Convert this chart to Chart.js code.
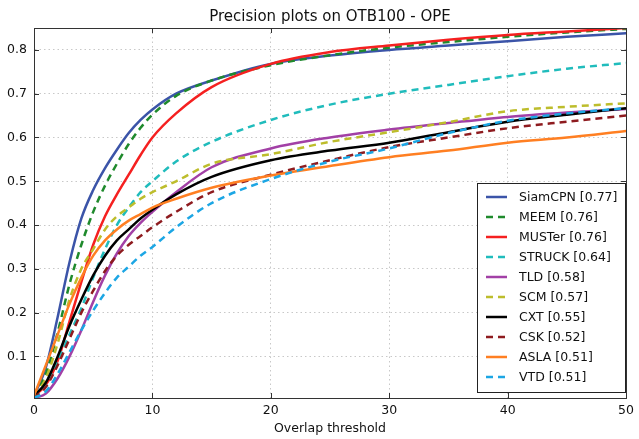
<!DOCTYPE html>
<html lang="en">
<head>
    <meta charset="UTF-8">
    <title>Precision plots on OTB100 - OPE</title>
    <script src="https://cdn.jsdelivr.net/npm/chart.js"></script>
    <style>
        html, body { margin: 0; padding: 0; background: #fff; }
        #wrap { width: 639px; height: 439px; }
    </style>
</head>
<body>
    <div id="wrap"><canvas id="precChart" width="639" height="439"></canvas></div>

    <script>
        // Datos
        const thresholds = [0, 1, 2, 3, 4, 5, 6, 7, 8, 9, 10, 12, 15, 20, 25, 30, 35, 40, 45, 50];
        const trackers = ['SiamCPN', 'MEEM', 'MUSTer', 'STRUCK', 'TLD', 'SCM', 'CXT', 'CSK', 'ASLA', 'VTD'];
        const scores = ['0.77', '0.76', '0.76', '0.64', '0.58', '0.57', '0.55', '0.52', '0.51', '0.51'];

        const siamcpn = [0.01, 0.075, 0.19, 0.315, 0.415, 0.48, 0.53, 0.572, 0.61, 0.64, 0.664, 0.70, 0.73, 0.768, 0.787, 0.80, 0.81, 0.82, 0.83, 0.838];
        const meem    = [0.01, 0.06, 0.155, 0.265, 0.355, 0.43, 0.49, 0.54, 0.585, 0.622, 0.652, 0.695, 0.73, 0.765, 0.788, 0.805, 0.818, 0.83, 0.84, 0.848];
        const muster  = [0.01, 0.035, 0.09, 0.18, 0.27, 0.355, 0.42, 0.47, 0.515, 0.56, 0.60, 0.655, 0.715, 0.768, 0.795, 0.81, 0.823, 0.834, 0.842, 0.85];
        const struck  = [0.005, 0.035, 0.09, 0.15, 0.21, 0.28, 0.345, 0.40, 0.44, 0.475, 0.50, 0.545, 0.59, 0.64, 0.675, 0.70, 0.72, 0.74, 0.757, 0.77];
        const tld     = [0.005, 0.015, 0.05, 0.10, 0.16, 0.225, 0.285, 0.335, 0.375, 0.405, 0.43, 0.475, 0.532, 0.575, 0.60, 0.618, 0.633, 0.647, 0.657, 0.665];
        const scm     = [0.01, 0.05, 0.13, 0.23, 0.30, 0.345, 0.39, 0.42, 0.44, 0.46, 0.475, 0.50, 0.54, 0.562, 0.59, 0.612, 0.635, 0.66, 0.67, 0.678];
        const cxt     = [0.01, 0.04, 0.10, 0.17, 0.23, 0.285, 0.33, 0.365, 0.39, 0.415, 0.435, 0.47, 0.51, 0.548, 0.57, 0.588, 0.612, 0.636, 0.652, 0.667];
        const csk     = [0.005, 0.03, 0.08, 0.14, 0.20, 0.25, 0.295, 0.33, 0.355, 0.375, 0.395, 0.43, 0.475, 0.515, 0.548, 0.578, 0.60, 0.621, 0.636, 0.65];
        const asla    = [0.01, 0.08, 0.15, 0.22, 0.28, 0.33, 0.365, 0.39, 0.41, 0.425, 0.44, 0.46, 0.485, 0.513, 0.535, 0.555, 0.57, 0.588, 0.60, 0.615];
        const vtd     = [0.005, 0.02, 0.06, 0.11, 0.16, 0.205, 0.245, 0.28, 0.305, 0.33, 0.35, 0.395, 0.45, 0.505, 0.545, 0.575, 0.61, 0.638, 0.655, 0.667];

        const xTicks = [0, 10, 20, 30, 40, 50];
        const yTicks = [0.1, 0.2, 0.3, 0.4, 0.5, 0.6, 0.7, 0.8];

        const series = [siamcpn, meem, muster, struck, tld, scm, cxt, csk, asla, vtd];
        const colors = ['#3b54a8', '#1f8a2c', '#f52020', '#20bcbc', '#a240a6', '#bdbd2c', '#000000', '#8e1b1f', '#ff7f22', '#1ca6e4'];
        const dashed = [false, true, false, true, false, true, false, true, false, true];

        const FONT = 'DejaVu Sans';

        // Marco, marcas interiores de los ejes y leyenda dentro del area del grafico
        const innerDecor = {
            id: 'innerDecor',
            afterDatasetsDraw(chart) {
                const ctx = chart.ctx;
                const area = chart.chartArea;
                const xs = chart.scales.x;
                const ys = chart.scales.y;

                ctx.save();
                ctx.strokeStyle = '#333';
                ctx.lineWidth = 1;
                ctx.setLineDash([]);
                ctx.strokeRect(Math.round(area.left) + 0.5, Math.round(area.top) + 0.5,
                    Math.round(area.right - area.left), Math.round(area.bottom - area.top));

                // marcas hacia dentro en los cuatro lados
                ctx.beginPath();
                xTicks.forEach(v => {
                    const px = Math.round(xs.getPixelForValue(v)) + 0.5;
                    ctx.moveTo(px, area.bottom); ctx.lineTo(px, area.bottom - 5);
                    ctx.moveTo(px, area.top); ctx.lineTo(px, area.top + 5);
                });
                yTicks.forEach(v => {
                    const py = Math.round(ys.getPixelForValue(v)) + 0.5;
                    ctx.moveTo(area.left, py); ctx.lineTo(area.left + 5, py);
                    ctx.moveTo(area.right, py); ctx.lineTo(area.right - 5, py);
                });
                ctx.stroke();

                // caja de la leyenda
                const bx = 477, by = 183, bw = 148, bh = 209;
                ctx.fillStyle = '#fff';
                ctx.fillRect(bx, by, bw, bh);
                ctx.strokeStyle = '#222';
                ctx.strokeRect(bx + 0.5, by + 0.5, bw, bh);

                ctx.font = '12.5px "' + FONT + '"';
                ctx.textBaseline = 'middle';
                ctx.textAlign = 'left';
                chart.data.datasets.forEach((ds, i) => {
                    const yy = 197 + i * 20;
                    ctx.strokeStyle = ds.borderColor;
                    ctx.lineWidth = ds.borderWidth;
                    ctx.setLineDash(ds.borderDash);
                    ctx.beginPath();
                    ctx.moveTo(486, yy);
                    ctx.lineTo(507, yy);
                    ctx.stroke();
                    ctx.setLineDash([]);
                    ctx.fillStyle = '#111';
                    ctx.fillText(ds.label, 519, yy + 1);
                });
                ctx.restore();
            }
        };

        const datasets = trackers.map((name, i) => ({
            label: name + ' [' + scores[i] + ']',
            data: thresholds.map((t, j) => ({ x: t, y: series[i][j] })),
            borderColor: colors[i],
            backgroundColor: colors[i],
            borderWidth: 2.5,
            borderDash: dashed[i] ? [7, 5] : [],
            pointRadius: 0,
            fill: false,
            cubicInterpolationMode: 'monotone',
            order: trackers.length - i
        }));

        const gridOpts = { color: '#c8c8c8', drawTicks: false };
        const borderOpts = { display: true, color: '#333', width: 1, dash: [1.5, 3] };

        const ctx = document.getElementById('precChart').getContext('2d');
        const precChart = new Chart(ctx, {
            type: 'line',
            data: { datasets: datasets },
            options: {
                responsive: false,
                animation: false,
                layout: { padding: { left: 0, right: 8, top: 0, bottom: 0 } },
                plugins: {
                    legend: { display: false },
                    tooltip: { enabled: false },
                    title: {
                        display: true,
                        text: 'Precision plots on OTB100 - OPE',
                        fullSize: false,
                        color: '#111',
                        font: { family: FONT, size: 15, weight: 'normal' },
                        padding: { top: 8, bottom: 2 }
                    }
                },
                scales: {
                    x: {
                        type: 'linear',
                        min: 0,
                        max: 50,
                        afterBuildTicks: s => { s.ticks = xTicks.map(v => ({ value: v })); },
                        afterFit: s => { s.height = 41; },
                        grid: gridOpts,
                        border: borderOpts,
                        ticks: {
                            padding: 5,
                            color: '#111',
                            maxRotation: 0,
                            font: { family: FONT, size: 12.5 }
                        },
                        title: {
                            display: true,
                            text: 'Overlap threshold',
                            color: '#111',
                            font: { family: FONT, size: 12.5 },
                            padding: { top: 0, bottom: 3 }
                        }
                    },
                    y: {
                        type: 'linear',
                        min: 0.005,
                        max: 0.85,
                        afterBuildTicks: s => { s.ticks = yTicks.map(v => ({ value: v })); },
                        afterFit: s => { s.width = 34; },
                        grid: gridOpts,
                        border: borderOpts,
                        ticks: {
                            padding: 7,
                            color: '#111',
                            font: { family: FONT, size: 12.5 },
                            callback: v => v.toFixed(1)
                        }
                    }
                }
            },
            plugins: [innerDecor]
        });
    </script>
</body>
</html>
